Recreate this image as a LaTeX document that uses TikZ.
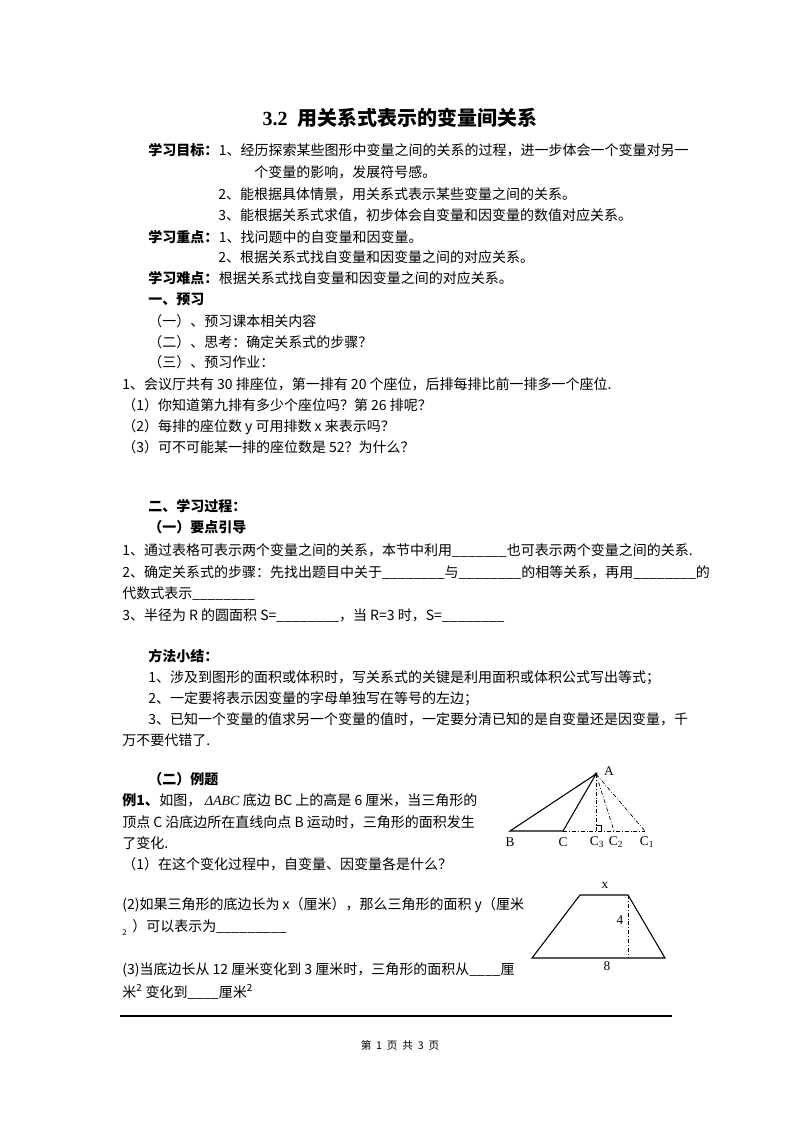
\documentclass[tikz,border=0pt]{standalone}
\usepackage{fontspec}
\setmainfont{Noto Sans CJK SC}
\newfontfamily\latinserif{Liberation Serif}
\begin{document}
\begin{tikzpicture}[x=0.75pt,y=-0.75pt,
 t/.style={anchor=base west,inner sep=0pt,font=\fontsize{10.5pt}{12pt}\selectfont},
 b/.style={t,font=\fontsize{10.5pt}{12pt}\selectfont\bfseries},
 fig/.style={line width=0.8pt},
 dd/.style={line width=0.5pt,dash pattern=on 3pt off 1.5pt on 0.6pt off 1.5pt},
 lab/.style={inner sep=0pt,font=\latinserif\fontsize{10pt}{12pt}\selectfont}]
\useasboundingbox (0,0) rectangle (800,1132);
\node[inner sep=0pt,font=\latinserif\fontsize{15pt}{18pt}\selectfont\bfseries] (title) at (400,118) {3.2\ \ \fontspec{Noto Sans CJK SC}用关系式表示的变量间关系};
\node[b] (g1) at (148,155) {学习目标：};
\node[t] (g1b) at (g1.base east) {1、经历探索某些图形中变量之间的关系的过程，进一步体会一个变量对另一};
\node[t] (g2) at (254,177) {个变量的影响，发展符号感。};
\node[t] (g3) at (218,199) {2、能根据具体情景，用关系式表示某些变量之间的关系。};
\node[t] (g4) at (218,220) {3、能根据关系式求值，初步体会自变量和因变量的数值对应关系。};
\node[b] (z1) at (148,242) {学习重点：};
\node[t] (z1b) at (z1.base east) {1、找问题中的自变量和因变量。};
\node[t] (z2) at (218,262) {2、根据关系式找自变量和因变量之间的对应关系。};
\node[b] (n1) at (148,283) {学习难点：};
\node[t] (n1b) at (n1.base east) {根据关系式找自变量和因变量之间的对应关系。};
\node[b] (y0) at (148,304) {一、预习};
\node[t] (y1) at (148,326) {（一）、预习课本相关内容};
\node[t] (y2) at (148,347) {（二）、思考：确定关系式的步骤？};
\node[t] (y3) at (148,367) {（三）、预习作业：};
\node[t] (p1) at (122,389) {1、会议厅共有 30 排座位，第一排有 20 个座位，后排每排比前一排多一个座位.};
\node[t] (p2) at (122,410) {（1）你知道第九排有多少个座位吗？第 26 排呢？};
\node[t] (p3) at (122,431) {（2）每排的座位数 y 可用排数 x 来表示吗？};
\node[t] (p4) at (122,452) {（3）可不可能某一排的座位数是 52？为什么？};
\node[b] (s0) at (148,511) {二、学习过程：};
\node[b] (s1) at (148,532) {（一）要点引导};
\node[t] (k1) at (122,555) {1、通过表格可表示两个变量之间的关系，本节中利用\_\_\_\_\_\_\_也可表示两个变量之间的关系.};
\node[t] (k2) at (122,577) {2、确定关系式的步骤：先找出题目中关于\_\_\_\_\_\_\_\_与\_\_\_\_\_\_\_\_的相等关系，再用\_\_\_\_\_\_\_\_的};
\node[t] (k3) at (122,598) {代数式表示\_\_\_\_\_\_\_\_};
\node[t] (k4) at (122,620) {3、半径为 R 的圆面积 S=\_\_\_\_\_\_\_\_，当 R=3 时，S=\_\_\_\_\_\_\_\_};
\node[b] (m0) at (148,661) {方法小结：};
\node[t] (m1) at (148,682) {1、涉及到图形的面积或体积时，写关系式的关键是利用面积或体积公式写出等式；};
\node[t] (m2) at (148,703) {2、一定要将表示因变量的字母单独写在等号的左边；};
\node[t] (m3) at (148,724) {3、已知一个变量的值求另一个变量的值时，一定要分清已知的是自变量还是因变量，千};
\node[t] (m4) at (122,745) {万不要代错了.};
\node[b] (e0) at (148,784) {（二）例题};
\node[b] (e1) at (122,805) {例1、};
\node[t] (e1b) at (e1.base east) {如图，{\latinserif\itshape \ ΔABC\ }底边 BC 上的高是 6 厘米，当三角形的};
\node[t] (e2) at (122,827) {顶点 C 沿底边所在直线向点 B 运动时，三角形的面积发生};
\node[t] (e3) at (122,848) {了变化.};
\node[t] (e4) at (122,869) {（1）在这个变化过程中，自变量、因变量各是什么？};
\node[t] (e5) at (122,909) {(2)如果三角形的底边长为 x（厘米），那么三角形的面积 y（厘米};
\node[t,font=\fontsize{6pt}{7pt}\selectfont] (e6a) at (122,935) {2};
\node[t] (e6) at (132,931) {）可以表示为\_\_\_\_\_\_\_\_\_};
\node[t] (e7) at (122,974) {(3)当底边长从 12 厘米变化到 3 厘米时，三角形的面积从\_\_\_\_厘};
\node[t] (e8) at (122,997) {米\textsuperscript{2} 变化到\_\_\_\_厘米\textsuperscript{2}};
% triangle figure
\coordinate (A) at (596,774);
\coordinate (B) at (510,831);
\coordinate (C) at (563,831);
\coordinate (C3) at (596,831);
\coordinate (C2) at (614,831);
\coordinate (C1) at (645,831);
\draw[fig] (A) -- (B) -- (C) -- cycle;
\draw[dd] (C) -- (C1);
\draw[dd] (A) -- (C3);
\draw[dd] (A) -- (C2);
\draw[dd] (A) -- (C1);
\draw[line width=0.5pt] (596,825) -- (601,825) -- (601,831);
\fill (A) circle (1.6);
\node[lab] (lA) at (609,771) {A};
\node[lab] (lB) at (510,842) {B};
\node[lab] (lC) at (563,842) {C};
\node[lab] (lC3) at (597,842) {C\textsubscript{3}};
\node[lab] (lC2) at (616,842) {C\textsubscript{2}};
\node[lab] (lC1) at (647,842) {C\textsubscript{1}};
% trapezoid
\coordinate (T1) at (580,895);
\coordinate (T2) at (628,895);
\coordinate (T3) at (665,958);
\coordinate (T4) at (532,958);
\coordinate (H) at (628,958);
\draw[fig] (T1) -- (T2) -- (T3) -- (T4) -- cycle;
\draw[dd] (T2) -- (H);
\node[lab] (lx) at (605,885) {x};
\node[lab] (l4) at (620,920) {4};
\node[lab] (l8) at (607,966) {8};
% rule and footer
\coordinate (R1) at (120,1016);
\coordinate (R2) at (672,1016);
\draw[line width=0.8pt] (R1) -- (R2);
\node[inner sep=0pt,font=\fontsize{8pt}{10pt}\selectfont] (foot) at (400,1045) {第\ \ 1\ \ 页\ \ 共\ \ 3\ \ 页};
\end{tikzpicture}
\end{document}
